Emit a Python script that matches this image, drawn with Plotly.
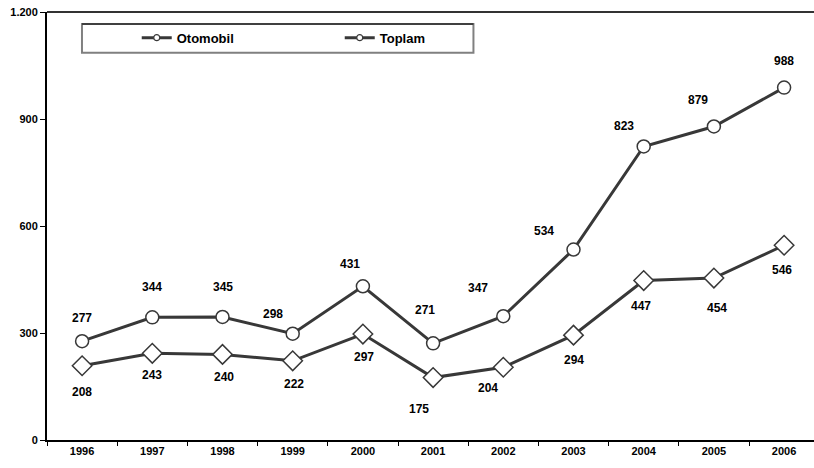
import plotly.graph_objects as go

years = ["1996", "1997", "1998", "1999", "2000", "2001", "2002", "2003", "2004", "2005", "2006"]
otomobil = [208, 243, 240, 222, 297, 175, 204, 294, 447, 454, 546]
toplam = [277, 344, 345, 298, 431, 271, 347, 534, 823, 879, 988]
y_tickvals = [0, 300, 600, 900, 1200]
y_ticktext = ["0", "300", "600", "900", "1.200"]

# label offsets in px (dx, dy up)
top_dx = [0, 0, 0, -20, -13, -8, -25, -30, -20, -16, 0]
top_dy = [23, 30, 30, 20, 22, 33, 28, 19, 20, 26, 27]
oto_dx = [0, 0, 1, 1, 1, -14, -15, 0, -3, 3, -2]
oto_dy = [-26, -22, -23, -23, -23, -31, -21, -25, -25, -30, -25]

LINE = "#383838"
FONT = "Liberation Sans, Arial, sans-serif"

fig = go.Figure()
fig.add_trace(go.Scatter(
    x=years, y=otomobil, name="Otomobil", mode="lines+markers", showlegend=False,
    line=dict(color=LINE, width=3),
    marker=dict(symbol="diamond", size=15, color="white", line=dict(color=LINE, width=1.5)),
))
fig.add_trace(go.Scatter(
    x=years, y=toplam, name="Toplam", mode="lines+markers", showlegend=False,
    line=dict(color=LINE, width=3),
    marker=dict(symbol="circle", size=13, color="white", line=dict(color=LINE, width=1.5)),
))
# legend entries (small markers as in the original legend)
for nm in ["Otomobil", "Toplam"]:
    fig.add_trace(go.Scatter(
        x=[None], y=[None], name=f"<b>{nm}</b>", mode="lines+markers",
        line=dict(color=LINE, width=3),
        marker=dict(symbol="circle", size=6, color="white", line=dict(color=LINE, width=1.2)),
    ))

ann = []
for i, yr in enumerate(years):
    ann.append(dict(x=i, y=toplam[i], text=f"<b>{toplam[i]}</b>", showarrow=False,
                    xshift=top_dx[i], yshift=top_dy[i], font=dict(size=12, color="black", family=FONT)))
    ann.append(dict(x=i, y=otomobil[i], text=f"<b>{otomobil[i]}</b>", showarrow=False,
                    xshift=oto_dx[i], yshift=oto_dy[i], font=dict(size=12, color="black", family=FONT)))

fig.update_layout(
    width=814, height=468,
    margin=dict(l=47, r=0, t=12, b=28),
    plot_bgcolor="white", paper_bgcolor="white",
    font=dict(family=FONT, color="black", size=11),
    annotations=ann,
    showlegend=True,
    legend=dict(orientation="h", x=0.117, y=0.975, xanchor="left", yanchor="top",
                bgcolor="rgba(0,0,0,0)", borderwidth=0, entrywidth=158,
                font=dict(size=13, family=FONT, color="black")),
    shapes=[
        dict(type="rect", xref="paper", yref="paper", x0=0.0456, x1=0.556, y0=0.905, y1=0.972,
             line=dict(color="#808080", width=2), fillcolor="white", layer="below"),
        dict(type="line", xref="paper", yref="paper", x0=0.0456, x1=0.556, y0=0.972, y1=0.972,
             line=dict(color="black", width=1.2), layer="below"),
        dict(type="line", xref="paper", yref="paper", x0=0, x1=1, y0=1, y1=1,
             line=dict(color="#333333", width=2), layer="above"),
    ],
)
fig.update_xaxes(type="category", range=[-0.5, 10.426], showline=True, linecolor="black", linewidth=2,
                 ticks="outside", tickson="boundaries", ticklen=4, tickcolor="black",
                 showgrid=False, zeroline=False, automargin=False,
                 tickfont=dict(size=11, family=FONT, color="black", weight="bold"))
fig.update_yaxes(range=[0, 1200], tickvals=y_tickvals, ticktext=y_ticktext, showline=True,
                 linecolor="black", linewidth=2, ticks="outside", ticklen=5, tickcolor="black",
                 showgrid=False, zeroline=False, automargin=False, ticklabeloverflow="allow",
                 tickfont=dict(size=11, family=FONT, color="black", weight="bold"))

fig.write_html("out.html", config={"displayModeBar": False},
               post_script="document.body.style.margin='0';")
